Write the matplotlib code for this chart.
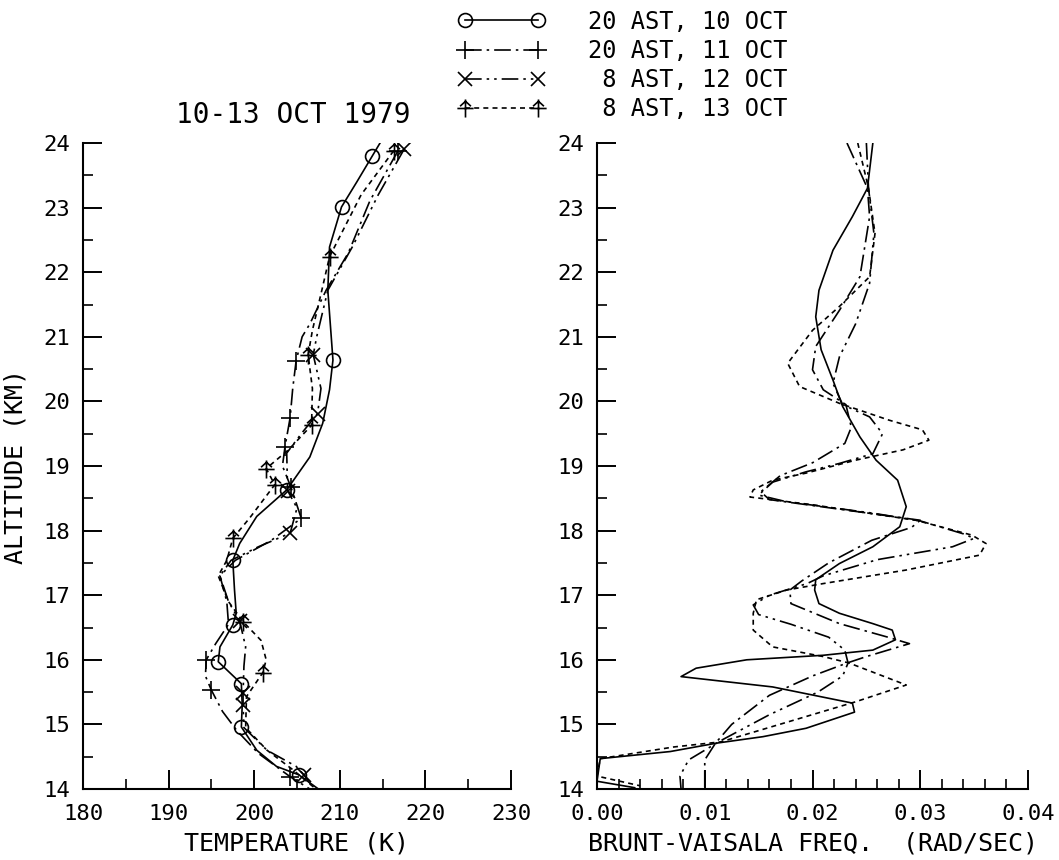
import numpy as np
import matplotlib
matplotlib.use("Agg")
import matplotlib.pyplot as plt
from matplotlib.path import Path
from matplotlib.ticker import MultipleLocator, FormatStrFormatter

plt.rcParams['font.family'] = ['DejaVu Sans Mono']

##################   Data   ##################

labels = ['20 AST, 10 OCT', '20 AST, 11 OCT', ' 8 AST, 12 OCT', ' 8 AST, 13 OCT']

# temperature profiles (K) vs altitude (km); marker indices listed separately
t10 = [214.7, 213.8, 212.0, 210.2, 208.8, 208.6, 209.0, 209.2, 208.8, 208.0, 206.5, 203.8, 200.3,
       198.3, 197.5, 197.7, 197.9, 197.5, 196.0, 195.8, 198.5, 198.6, 198.5, 200.3, 202.6, 205.2, 207.5]
z10 = [24.0, 23.80, 23.40, 23.01, 22.39, 21.72, 21.00, 20.64, 20.18, 19.66, 19.14, 18.63, 18.22,
       17.80, 17.54, 17.08, 16.72, 16.54, 16.20, 15.97, 15.63, 15.30, 14.96, 14.60, 14.35, 14.22, 14.0]
m10 = [1, 3, 7, 11, 14, 17, 19, 20, 22, 25]

t11 = [216.8, 213.5, 211.0, 208.4, 206.5, 205.6, 204.9, 204.5, 204.2, 203.6, 203.3, 204.3, 205.5,
       202.0, 197.8, 196.0, 196.8, 197.0, 195.5, 194.4, 194.3, 195.0, 196.3, 198.0, 200.5, 204.2, 206.5]
z11 = [23.88, 23.10, 22.30, 21.72, 21.20, 21.00, 20.63, 20.20, 19.75, 19.30, 19.00, 18.67, 18.19,
       17.85, 17.54, 17.30, 16.90, 16.55, 16.25, 16.00, 15.75, 15.53, 15.20, 14.90, 14.55, 14.19, 14.0]
m11 = [0, 6, 8, 9, 11, 12, 19, 21, 25]

t12 = [217.5, 214.5, 211.5, 208.6, 207.3, 206.9, 207.8, 207.4, 205.5, 203.8, 203.9, 205.0, 204.2,
       200.5, 197.3, 196.0, 197.0, 198.3, 199.0, 198.8, 198.7, 198.7, 198.8, 201.5, 204.9, 205.8, 207.0]
z12 = [23.90, 23.20, 22.40, 21.72, 21.00, 20.72, 20.20, 19.81, 19.50, 19.20, 18.62, 18.35, 17.96,
       17.75, 17.54, 17.30, 16.90, 16.60, 16.20, 15.90, 15.48, 15.30, 14.95, 14.60, 14.35, 14.22, 14.0]
m12 = [0, 5, 7, 10, 12, 17, 20, 21, 25]

t13 = [216.3, 212.5, 208.8, 207.9, 206.8, 206.3, 206.8, 206.7, 204.0, 201.4, 202.4, 199.5, 197.5,
       196.8, 195.8, 197.0, 198.7, 200.8, 201.4, 201.0, 199.1, 199.0, 201.5, 204.5, 207.2]
z13 = [23.88, 23.20, 22.24, 21.72, 21.10, 20.72, 20.20, 19.63, 19.25, 18.96, 18.71, 18.20, 17.88,
       17.54, 17.30, 16.90, 16.59, 16.30, 16.00, 15.80, 15.43, 14.95, 14.60, 14.30, 14.0]
m13 = [0, 2, 5, 7, 9, 10, 12, 16, 19]

# Brunt-Vaisala frequency (rad/s) vs altitude (km)
n10 = [0.0256, 0.0251, 0.0237, 0.0219, 0.0206, 0.0203, 0.0208, 0.0219, 0.0228, 0.0244, 0.0259, 0.0279,
       0.0287, 0.0281, 0.0256, 0.0225, 0.0203, 0.0202, 0.0206, 0.0225, 0.0256, 0.0274, 0.0277, 0.0256,
       0.0210, 0.0139, 0.0092, 0.0078, 0.0163, 0.0237, 0.0239, 0.0194, 0.0154, 0.0111, 0.0068, 0.0003,
       0.0000, 0.0035]
y10 = [24.0, 23.30, 22.86, 22.34, 21.72, 21.31, 20.80, 20.33, 19.92, 19.45, 19.09, 18.78,
       18.37, 18.06, 17.75, 17.49, 17.24, 17.08, 16.87, 16.72, 16.56, 16.46, 16.31, 16.15,
       16.07, 16.00, 15.87, 15.74, 15.58, 15.33, 15.19, 14.94, 14.81, 14.71, 14.58, 14.47,
       14.12, 14.02]

n11 = [0.0232, 0.0251, 0.0253, 0.0244, 0.0225, 0.0203, 0.0200, 0.0210, 0.0231, 0.0236, 0.0230, 0.0200,
       0.0170, 0.0152, 0.0160, 0.0230, 0.0300, 0.0292, 0.0255, 0.0215, 0.0190, 0.0179, 0.0180, 0.0225,
       0.0270, 0.0290, 0.0250, 0.0232, 0.0200, 0.0160, 0.0125, 0.0110, 0.0100, 0.0100]
y11 = [24.0, 23.30, 22.86, 21.93, 21.41, 20.85, 20.49, 20.18, 19.95, 19.60, 19.35, 19.05,
       18.85, 18.60, 18.48, 18.32, 18.16, 18.05, 17.85, 17.50, 17.22, 17.08, 16.87, 16.56,
       16.35, 16.25, 16.05, 15.95, 15.75, 15.45, 15.00, 14.71, 14.45, 14.0]

n12 = [0.0250, 0.0252, 0.0257, 0.0253, 0.0240, 0.0225, 0.0219, 0.0228, 0.0253, 0.0265, 0.0256, 0.0225,
       0.0194, 0.0163, 0.0150, 0.0175, 0.0256, 0.0300, 0.0340, 0.0350, 0.0330, 0.0260, 0.0210, 0.0195,
       0.0160, 0.0145, 0.0150, 0.0180, 0.0215, 0.0230, 0.0233, 0.0228, 0.0205, 0.0160, 0.0115, 0.0085,
       0.0077, 0.0078]
y12 = [24.0, 23.30, 22.60, 21.83, 21.20, 20.69, 20.28, 19.95, 19.76, 19.50, 19.19, 19.04,
       18.91, 18.75, 18.55, 18.45, 18.27, 18.15, 17.95, 17.88, 17.75, 17.55, 17.30, 17.18,
       17.00, 16.85, 16.70, 16.55, 16.35, 16.15, 15.95, 15.75, 15.50, 15.15, 14.75, 14.45,
       14.20, 14.0]

n13 = [0.0242, 0.0252, 0.0258, 0.0253, 0.0225, 0.0200, 0.0177, 0.0188, 0.0225, 0.0271, 0.0302, 0.0308,
       0.0284, 0.0240, 0.0194, 0.0163, 0.0145, 0.0142, 0.0200, 0.0296, 0.0348, 0.0361, 0.0355, 0.0287,
       0.0210, 0.0176, 0.0148, 0.0145, 0.0145, 0.0163, 0.0210, 0.0234, 0.0287, 0.0240, 0.0115, 0.0071,
       0.0003, 0.0000, 0.0040]
y13 = [24.0, 23.30, 22.60, 21.93, 21.47, 21.10, 20.59, 20.23, 19.97, 19.71, 19.56, 19.40,
       19.25, 19.09, 18.89, 18.78, 18.63, 18.52, 18.40, 18.16, 17.93, 17.80, 17.62, 17.39,
       17.18, 17.08, 16.93, 16.72, 16.46, 16.20, 16.05, 15.95, 15.61, 15.35, 14.73, 14.65,
       14.47, 14.20, 14.05]

##################   Styles   ##################

tent = Path([(0, -1), (0, 1), (-0.9, 0), (0.9, 0), (-0.6, 0.25), (0, 0.8), (0.6, 0.25)],
            [Path.MOVETO, Path.LINETO, Path.MOVETO, Path.LINETO, Path.MOVETO, Path.LINETO, Path.LINETO])

styles = [
    dict(ls='-', marker='o', ms=10),
    dict(ls=(0, (10, 3, 1.5, 3)), marker='+', ms=13),
    dict(ls=(0, (10, 3, 1.5, 3, 1.5, 3)), marker='x', ms=10),
    dict(ls=(0, (3, 2.5)), marker=tent, ms=13),
]

##################   Plot   ##################

fig = plt.figure(figsize=(10.59, 8.6), dpi=100)
W, H = 1059., 860.
axL = fig.add_axes([83/W, 1-789/H, (511-83)/W, (789-143)/H])
axR = fig.add_axes([597/W, 1-789/H, (1028-597)/W, (789-143)/H])

temps = [(t10, z10, m10), (t11, z11, m11), (t12, z12, m12), (t13, z13, m13)]
handles = []
for (t, z, m), st, lab in zip(temps, styles, labels):
    h, = axL.plot(t, z, color='black', lw=1.2, ls=st['ls'], marker=st['marker'], ms=st['ms'],
                  markevery=m, mfc='none', mec='black', mew=1.2, label=lab)
    handles.append(h)

freqs = [(n10, y10), (n11, y11), (n12, y12), (n13, y13)]
for (n, y), st in zip(freqs, styles):
    axR.plot(n, y, color='black', lw=1.2, ls=st['ls'])

for ax in (axL, axR):
    ax.set_ylim(14, 24)
    ax.yaxis.set_major_locator(MultipleLocator(1))
    ax.yaxis.set_minor_locator(MultipleLocator(0.5))
    for s in ('top', 'right'):
        ax.spines[s].set_visible(False)
    for s in ('left', 'bottom'):
        ax.spines[s].set_linewidth(1.5)
    ax.tick_params(which='major', direction='in', length=14, width=1.4, labelsize=16, pad=9)
    ax.tick_params(axis='x', which='major', pad=11)
    ax.tick_params(which='minor', direction='in', length=7, width=1.2)
    ax.patch.set_visible(False)

axL.set_xlim(180, 230)
axL.xaxis.set_major_locator(MultipleLocator(10))
axL.xaxis.set_minor_locator(MultipleLocator(5))
axR.set_xlim(0, 0.04)
axR.xaxis.set_major_locator(MultipleLocator(0.01))
axR.xaxis.set_minor_locator(MultipleLocator(0.002))
axR.xaxis.set_major_formatter(FormatStrFormatter('%.2f'))

axL.set_xlabel('TEMPERATURE (K)', fontsize=18, labelpad=5)
axR.set_xlabel('BRUNT-VAISALA FREQ.  (RAD/SEC)', fontsize=18, labelpad=5)
axL.set_ylabel('ALTITUDE (KM)', fontsize=18, labelpad=12)

fig.text(293/W, 1-115/H, '10-13 OCT 1979', fontsize=20, ha='center', va='center')

fig.legend(handles=handles, loc='upper left', bbox_to_anchor=(453/W, 1-5/H), frameon=False,
           numpoints=2, handlelength=3.7, handletextpad=1.8, labelspacing=0.22,
           borderpad=0.2, borderaxespad=0, prop={'size': 17})

fig.savefig('out.png', dpi=100, facecolor='white')
